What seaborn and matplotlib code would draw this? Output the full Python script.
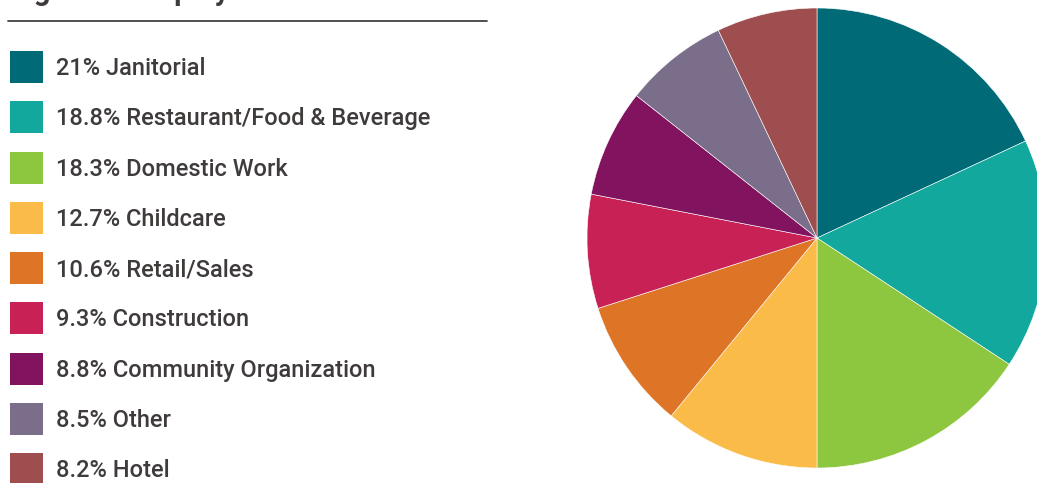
import matplotlib
matplotlib.use("Agg")
import matplotlib.pyplot as plt
from matplotlib.patches import Rectangle
import seaborn as sns

sns.set_theme(style="white")
plt.rcParams['font.family'] = ['Roboto', 'DejaVu Sans']

categories = ["Janitorial", "Restaurant/Food & Beverage", "Domestic Work", "Childcare",
              "Retail/Sales", "Construction", "Community Organization", "Other", "Hotel"]
values = [21, 18.8, 18.3, 12.7, 10.6, 9.3, 8.8, 8.5, 8.2]
labels = ["21%", "18.8%", "18.3%", "12.7%", "10.6%", "9.3%", "8.8%", "8.5%", "8.2%"]
colors = ["#006b77", "#12a89d", "#8dc63f", "#fbbb48", "#dd7426",
          "#c82156", "#82145f", "#7a6e8b", "#9e4e4e"]
title = "Figure 1: Employment Sectors"

W, H = 1037, 483
fig = plt.figure(figsize=(W / 100, H / 100), dpi=100)

# Pie
cx, cy, r = 817, 238, 230
pax = fig.add_axes([(cx - r) / W, (H - cy - r) / H, 2 * r / W, 2 * r / H])
pax.pie(values, colors=colors, startangle=90, counterclock=False,
        wedgeprops=dict(edgecolor="white", linewidth=0.4))
pax.set_xlim(-1, 1)
pax.set_ylim(-1, 1)
pax.set_aspect("equal")
pax.axis("off")

# Legend / title area in pixel coordinates
lax = fig.add_axes([0, 0, 1, 1], zorder=-1)
lax.set_xlim(0, W)
lax.set_ylim(H, 0)
lax.axis("off")

txt_color = "#3f3b3b"
lax.text(10, 0, title, fontsize=21, fontweight="bold", color=txt_color,
         va="baseline", ha="left")
lax.plot([8, 487], [21, 21], color="#444040", linewidth=1.3)

row0, step = 67, 50.25
for i, (cat, lab, col) in enumerate(zip(categories, labels, colors)):
    yc = row0 + i * step
    lax.add_patch(Rectangle((10, yc - 16), 33, 32, facecolor=col, edgecolor="none"))
    lax.text(56, yc + 1.5, f"{lab} {cat}", fontsize=17, fontweight="medium",
             color=txt_color, va="center", ha="left")

fig.savefig("out.png", dpi=100)
